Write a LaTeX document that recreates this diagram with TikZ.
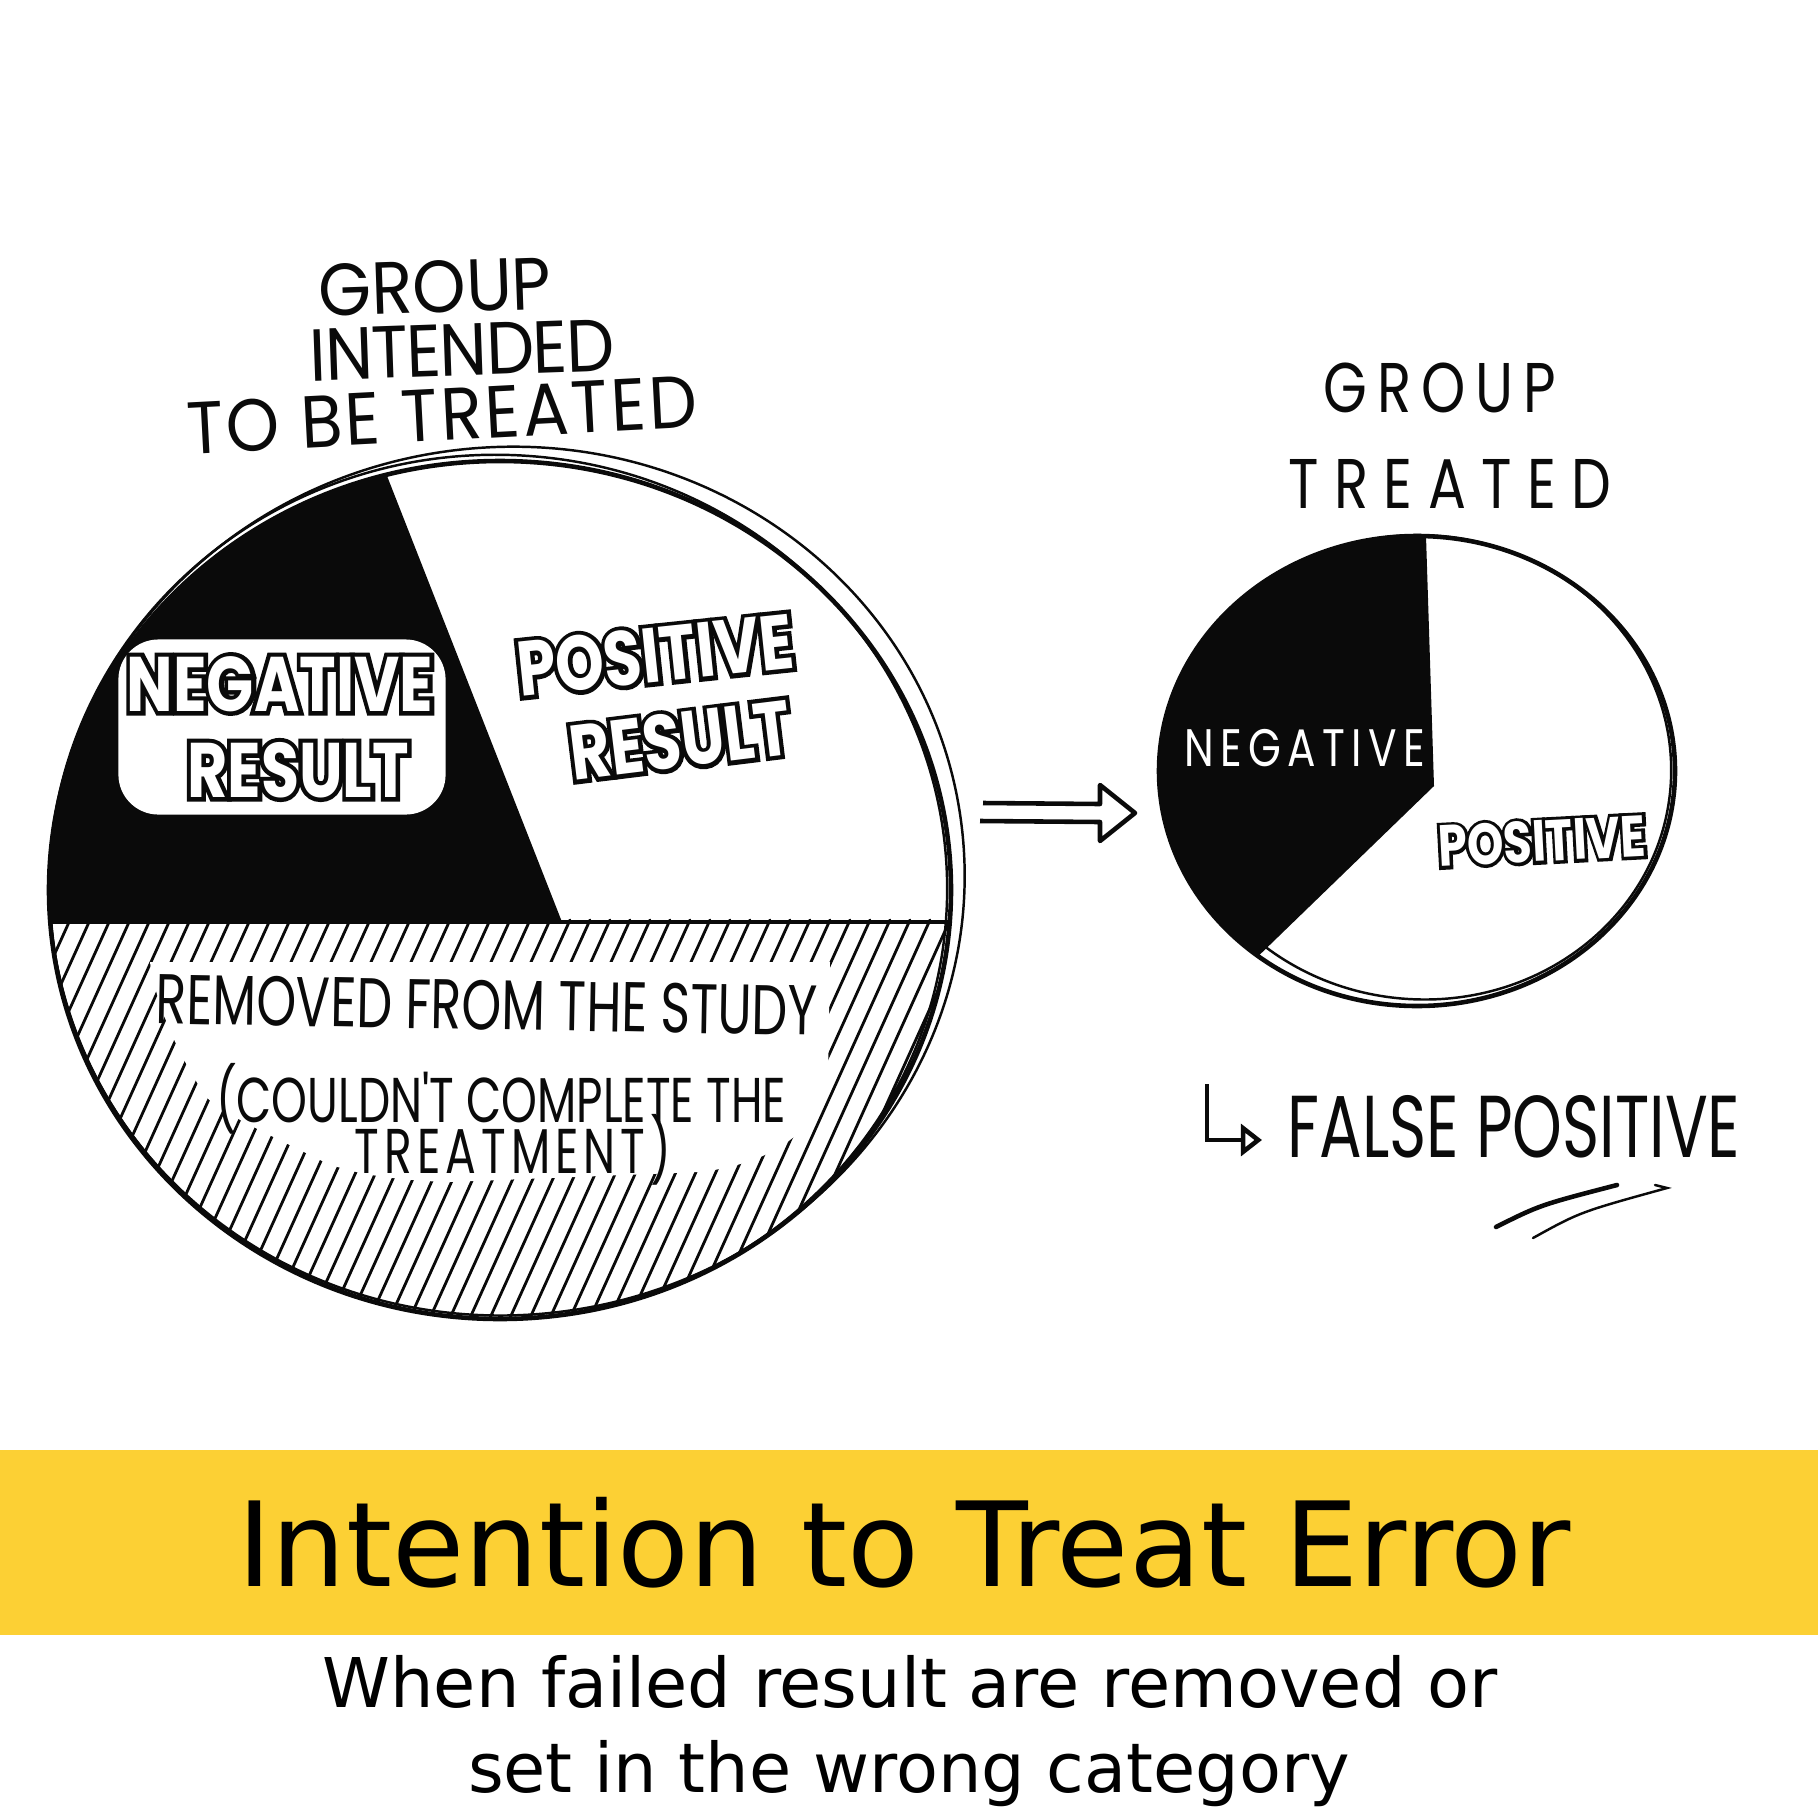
\documentclass[tikz,border=0pt]{standalone}
\usepackage{fontspec}
\usepackage{tikz}
\usetikzlibrary{arrows.meta,calc}
\newfontfamily\handfont[FakeStretch=0.92]{Poppins}
\newfontfamily\handnarrow[FakeStretch=0.8]{Poppins}
\newfontfamily\handtight[FakeStretch=0.72]{Poppins}
\newfontfamily\hollowwt[FakeStretch=0.8]{Poppins Bold}
\newfontfamily\hollowbk[FakeStretch=0.8, FakeBold=11]{Poppins Bold}
\newfontfamily\bannerfont{DejaVu Sans}
\definecolor{ink}{HTML}{0A0A0A}
\definecolor{bannerYl}{HTML}{FCD034}
% outlined lettering: emboldened black under white
\newcommand{\hollow}[1]{\rlap{\hollowbk\color{ink}#1}\textcolor{white}{#1}}
\tikzset{
  pen/.style       = {draw=ink, line width=1.3pt},
  penthin/.style   = {draw=ink, line width=0.7pt},
  hatchln/.style   = {draw=ink, line width=0.8pt, line cap=round},
  hand/.style      = {font=\handfont\fontsize{21}{25}\selectfont,
                      text=ink, inner sep=0pt},
  handsm/.style    = {font=\handtight\fontsize{18}{22}\selectfont,
                      text=ink, inner sep=0pt},
  handsp/.style    = {font=\handnarrow\addfontfeatures{LetterSpace=14}\fontsize{20}{24}\selectfont,
                      text=ink, inner sep=0pt},
  hollowlab/.style = {font=\hollowwt\fontsize{22}{26}\selectfont,
                      inner sep=0pt, align=center},
}
\begin{document}
\begin{tikzpicture}[x=0.01cm, y=-0.01cm]
  \useasboundingbox (0,0) rectangle (1818,1818);
  % --- group intended to be treated
  \coordinate (intended) at (500,890);
  \begin{scope}
    \clip (intended) ellipse [x radius=451, y radius=429];
    \fill[ink] (0,300) -- (318,300) -- (562,922) -- (0,922) -- cycle;
    \foreach \hx in {-240,-220,...,1000}
      \draw[hatchln] (\hx,1340) -- ++(190,-420);
    \fill[white] (150,962) -- (830,962) -- (828,1080)
      .. controls (815,1140) and (760,1165) .. (700,1172) -- (450,1182)
      .. controls (380,1180) and (340,1170) .. (320,1160)
      .. controls (260,1130) and (215,1110) .. (205,1095)
      .. controls (175,1050) and (155,1000) .. (150,962) -- cycle;
    \draw[pen] (0,922) -- (1000,922);
  \end{scope}
  \draw[pen] (intended) ellipse [x radius=451, y radius=429];
  \draw[penthin, rotate around={7:(intended)}] ($(intended)+(8,-8)$)
    ellipse [x radius=458, y radius=434];
  \draw[penthin, rotate around={-4:(intended)}] ($(intended)+(-2,-3)$)
    ellipse [x radius=449, y radius=432];

  \node[fill=white, rounded corners=0.4cm, minimum width=3.27cm,
        minimum height=1.75cm, inner sep=0pt] (negbox) at (282,727) {};
  \node[hollowlab] (negL1) at (280,684) {\hollow{NEGATIVE}};
  \node[hollowlab] (negL2) at (298,770) {\hollow{RESULT}};
  \node[hollowlab, rotate=6] (posL1) at (655,655) {\hollow{POSITIVE}};
  \node[hollowlab, rotate=7] (posL2) at (680,740) {\hollow{RESULT}};

  \node[handsm, font=\handtight\fontsize{20}{24}\selectfont, rotate=-1]
    (removed) at (487,1005) {REMOVED FROM THE STUDY};
  \node[handsm] (couldnt) at (501,1099) {(COULDN'T COMPLETE THE};
  \node[handsm, font=\handtight\addfontfeatures{LetterSpace=8}\fontsize{18}{22}\selectfont]
    (treatmt) at (513,1150) {TREATMENT)};

  \node[hand, rotate=2] (grpL1) at (435,287) {GROUP};
  \node[hand, font=\handfont\addfontfeatures{LetterSpace=-2}\fontsize{21}{25}\selectfont,
        rotate=2] (grpL2) at (462,350) {INTENDED};
  \node[hand, font=\handfont\addfontfeatures{LetterSpace=4}\fontsize{21}{25}\selectfont,
        rotate=3] (grpL3) at (442,415) {TO BE TREATED};

  % --- arrow
  \coordinate (arrtail) at (980,812);
  \coordinate (arrtip) at (1135,813);
  \draw[pen, line join=round] ($(arrtail)+(3,-9)$) -- ($(arrtip)+(-35,-9)$)
    -- ($(arrtip)+(-35,-28)$) -- (arrtip) -- ($(arrtip)+(-35,28)$)
    -- ($(arrtip)+(-35,9)$) -- ($(arrtail)+(0,9)$);

  % --- group treated
  \coordinate (treated) at (1417,771);
  \fill[ink] (treated) ++(128:258 and 235)
    arc[start angle=128, end angle=272, x radius=258, y radius=235]
    -- (1434,786) -- cycle;
  \draw[pen] (treated) ellipse [x radius=258, y radius=235];
  \draw[penthin, rotate around={-5:(treated)}] ($(treated)+(4,-4)$)
    ellipse [x radius=250, y radius=232];

  \node[handsp] (grpR1) at (1440,388) {GROUP};
  \node[handsp, font=\handnarrow\addfontfeatures{LetterSpace=22}\fontsize{20}{24}\selectfont]
    (grpR2) at (1450,484) {TREATED};
  \node[handsp, font=\handnarrow\addfontfeatures{LetterSpace=12}\fontsize{15}{18}\selectfont,
        text=white] (negR) at (1305,748) {NEGATIVE};
  \node[hollowlab, font=\hollowwt\fontsize{16.5}{20}\selectfont, rotate=3]
    (posR) at (1542,841) {\hollow{POSITIVE}};

  % --- false positive note
  \coordinate (hookstart) at (1207,1084);
  \coordinate (hooktip) at (1262,1140);
  \draw[pen, -{Triangle[open, length=6pt, width=9pt]}] (hookstart) |- (hooktip);
  \node[handsm, font=\handtight\fontsize{25}{30}\selectfont, anchor=west]
    (falsepos) at (1287,1127) {FALSE POSITIVE};
  \coordinate (ulA1) at (1496,1227);
  \coordinate (ulA2) at (1617,1185);
  \coordinate (ulB1) at (1533,1238);
  \coordinate (ulB2) at (1667,1188);
  \draw[pen, line cap=round] (ulA1) .. controls (1540,1205) .. (ulA2);
  \draw[penthin, line cap=round] (ulB1) .. controls (1580,1212) .. (ulB2) -- ++(-12,-3);

  % --- banner
  \fill[bannerYl] (0,1450) rectangle (1818,1635);
  \node[font=\bannerfont\fontsize{33.4}{40}\selectfont, anchor=base, inner sep=0pt]
    (title) at (904,1586) {Intention to Treat Error};
  \node[font=\bannerfont\fontsize{19.5}{24}\selectfont, anchor=base, inner sep=0pt]
    (sub1) at (910,1707) {When failed result are removed or};
  \node[font=\bannerfont\fontsize{19.5}{24}\selectfont, anchor=base, inner sep=0pt]
    (sub2) at (909,1792) {set in the wrong category};
\end{tikzpicture}
\end{document}
